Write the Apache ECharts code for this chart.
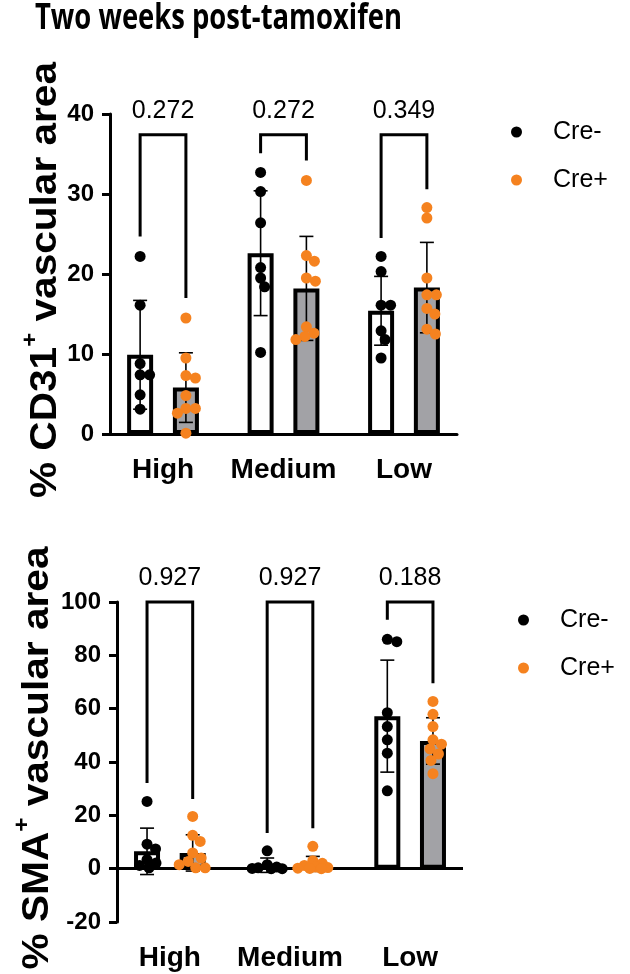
<!DOCTYPE html>
<html><head><meta charset="utf-8">
<script src="https://cdn.jsdelivr.net/npm/echarts@6/dist/echarts.min.js"></script>
<style>html,body{margin:0;padding:0;background:#fff}#c{width:630px;height:974px}</style>
</head><body><div id="c"></div>
<script>
// ---------- DATA ----------
const categories = ['High', 'Medium', 'Low'];
const groupNames = ['Cre-', 'Cre+'];
const titleText = 'Two weeks post-tamoxifen';

// Panel 1: % CD31+ vascular area
const cd31Ticks = [0, 10, 20, 30, 40];
const cd31DotsNeg = [
  [22.2, 16.1, 8.8, 7.4, 7.4, 4.9, 3.1],
  [32.7, 30.3, 26.4, 20.8, 19.5, 18.4, 10.2],
  [22.2, 20.3, 16.1, 16.1, 12.9, 11.8, 9.5]
];
const cd31DotsPos = [
  [14.5, 9.5, 7.3, 7.0, 4.8, 3.2, 3.2, 2.6, 0.1],
  [31.7, 22.3, 21.6, 19.5, 19.1, 13.4, 12.6, 12.2, 11.8],
  [28.3, 27.0, 19.5, 17.4, 17.4, 15.7, 15.0, 13.1, 12.5]
];
const cd31MeanNeg = [9.9, 22.6, 15.4];
const cd31MeanPos = [5.8, 18.2, 18.3];
const cd31SdNeg = [6.8, 7.8, 4.3];
const cd31SdPos = [4.35, 6.5, 5.65];
const cd31P = ['0.272', '0.272', '0.349'];
const cd31LegNeg = [24.7, 35.1, 24.5];
const cd31LegPos = [17.0, 34.2, 30.6];
const cd31BracketTop = 37.4;

// Panel 2: % SMA+ vascular area
const smaTicks = [-20, 0, 20, 40, 60, 80, 100];
const smaDotsNeg = [
  [25.2, 9.2, 7.4, 3.4, 2.1, 1.2, 0.3],
  [6.7, 1.5, 0.6, 0.3, 0.1, 0.0, 0.0],
  [86.0, 85.1, 58.5, 53.3, 48.3, 43.3, 29.2]
];
const smaDotsPos = [
  [19.6, 12.5, 10.2, 5.9, 4.0, 2.7, 1.5, 0.3, 0.3],
  [8.4, 3.0, 2.0, 1.2, 0.6, 0.4, 0.2, 0.1, 0.0],
  [62.7, 57.9, 53.3, 48.3, 46.7, 44.9, 43.0, 40.6, 35.6]
];
const smaMeanNeg = [6.5, 1.3, 57.2];
const smaMeanPos = [5.9, 1.8, 47.9];
const smaSdNeg = [8.7, 2.7, 21.0];
const smaSdPos = [6.8, 2.8, 8.7];
const smaP = ['0.927', '0.927', '0.188'];
const smaLegNeg = [32.1, 13.4, 93.3];
const smaLegPos = [26.1, 15.2, 69.5];
const smaBracketTop = 100;

// ---------- STYLE ----------
const FONT = '"Liberation Sans", Arial, Helvetica, sans-serif';
const ORANGE = '#f5821f';
const GREY = '#a2a2a6';
const OFFS = 0.19;       // bar offset from group centre (axis units)
const XMIN = 0.56, XMAX = 3.44;
const DOT = 11;

function measure(text, font) {
  const c = document.createElement('canvas').getContext('2d');
  c.font = font;
  return c.measureText(text).width;
}

function mkX(gi, showLine) {
  return {
    type: 'value', gridIndex: gi, min: XMIN, max: XMAX,
    axisLine: { show: showLine, onZero: false, lineStyle: { color: '#000', width: 3 } },
    axisTick: { show: false },
    splitLine: { show: false },
    axisLabel: {
      customValues: [1, 2, 3],
      formatter: v => categories[Math.round(v) - 1] || '',
      fontSize: 28, fontWeight: 'bold', color: '#000', margin: 22, fontFamily: FONT
    }
  };
}
function mkY(gi, ticks) {
  return {
    type: 'value', gridIndex: gi,
    min: ticks[0], max: ticks[ticks.length - 1], interval: ticks[1] - ticks[0],
    axisLine: { show: true, lineStyle: { color: '#000', width: 3 } },
    axisTick: { show: true, length: 8, lineStyle: { color: '#000', width: 3 } },
    splitLine: { show: false },
    axisLabel: { fontSize: 24, fontWeight: 'bold', color: '#000', margin: 16, fontFamily: FONT }
  };
}

function renderErr(params, api) {
  const x = api.value(0), m = api.value(1), s = api.value(2);
  const a = api.coord([x, m + s]), b = api.coord([x, m - s]);
  const w = 7;
  const st = { stroke: '#000', lineWidth: 1.6 };
  return { type: 'group', children: [
    { type: 'line', shape: { x1: a[0], y1: a[1], x2: b[0], y2: b[1] }, style: st },
    { type: 'line', shape: { x1: a[0] - w, y1: a[1], x2: a[0] + w, y2: a[1] }, style: st },
    { type: 'line', shape: { x1: b[0] - w, y1: b[1], x2: b[0] + w, y2: b[1] }, style: st }
  ]};
}
function mkBracketRender(labels) {
  return function (params, api) {
    const xl = api.value(0), xr = api.value(1), ll = api.value(2), lr = api.value(3), t = api.value(4);
    const p1 = api.coord([xl, ll]), p2 = api.coord([xl, t]), p3 = api.coord([xr, t]), p4 = api.coord([xr, lr]);
    return { type: 'group', children: [
      { type: 'polyline', shape: { points: [p1, p2, p3, p4] },
        style: { stroke: '#000', lineWidth: 3, fill: null, lineJoin: 'miter' } },
      { type: 'text', x: (p2[0] + p3[0]) / 2, y: p2[1] - 24,
        style: { text: labels[params.dataIndex], fontSize: 25, fontFamily: FONT, fill: '#000',
                 align: 'center', verticalAlign: 'middle', textAlign: 'center', textVerticalAlign: 'middle' } }
    ]};
  };
}

function panelSeries(gi, meanNeg, meanPos, sdNeg, sdPos, pv, legNeg, legPos, top, withZeroLine) {
  const barData = [];
  const errData = [];
  const brData = [];
  categories.forEach((c, i) => {
    barData.push({ value: [i + 1 - OFFS, meanNeg[i]], itemStyle: { color: '#ffffff' } });
    barData.push({ value: [i + 1 + OFFS, meanPos[i]], itemStyle: { color: GREY } });
    errData.push([i + 1 - OFFS, meanNeg[i], sdNeg[i]]);
    errData.push([i + 1 + OFFS, meanPos[i], sdPos[i]]);
    brData.push([i + 1 - OFFS, i + 1 + OFFS, legNeg[i], legPos[i], top]);
  });
  const bar = {
    id: 'bar' + gi, type: 'bar', xAxisIndex: gi, yAxisIndex: gi, data: barData,
    barWidth: 26, itemStyle: { borderColor: '#000', borderWidth: 4 }, z: 2, silent: true
  };
  if (withZeroLine) {
    bar.markLine = { symbol: 'none', silent: true, label: { show: false },
      lineStyle: { color: '#000', width: 3, type: 'solid' }, data: [{ yAxis: 0 }] };
  }
  return [
    bar,
    { id: 'err' + gi, type: 'custom', xAxisIndex: gi, yAxisIndex: gi, data: errData,
      encode: { x: 0, y: 1 }, renderItem: renderErr, z: 3, silent: true, clip: false },
    { id: 'neg' + gi, name: groupNames[0], type: 'scatter', xAxisIndex: gi, yAxisIndex: gi,
      symbolSize: DOT, itemStyle: { color: '#000', opacity: 1 }, z: 5, clip: false, data: [] },
    { id: 'pos' + gi, name: groupNames[1], type: 'scatter', xAxisIndex: gi, yAxisIndex: gi,
      symbolSize: DOT, itemStyle: { color: ORANGE, opacity: 1 }, z: 5, clip: false, data: [] },
    { id: 'br' + gi, type: 'custom', xAxisIndex: gi, yAxisIndex: gi, data: brData,
      encode: { x: 0, y: 4 }, renderItem: mkBracketRender(pv), z: 4, silent: true, clip: false }
  ];
}

// Titles (scaled to the reference's text boxes)
const titleFont = 'bold 35px "Open Sans"';
const titleScale = 367 / measure(titleText, titleFont);
const yTitleFont = 'bold 37px "Liberation Sans"';
const supFont = 'bold 22px "Liberation Sans"';
function yTitleLen(a, b) { return measure(a, yTitleFont) + measure('+', supFont) + measure(b, yTitleFont); }
const s1 = 436 / yTitleLen('% CD31', ' vascular area');
const s2 = 423 / yTitleLen('% SMA', ' vascular area');
const richY = {
  b: { fontSize: 37, fontWeight: 'bold', fontFamily: FONT, fill: '#000', lineHeight: 44, verticalAlign: 'bottom' },
  s: { fontSize: 22, fontWeight: 'bold', fontFamily: FONT, fill: '#000', lineHeight: 44, verticalAlign: 'top' }
};

function mkLegend(left, top) {
  return {
    data: groupNames.map(n => ({ name: n, icon: 'circle' })),
    orient: 'vertical', left: left, top: top, padding: 0,
    itemWidth: 11, itemHeight: 11, itemGap: 20, selectedMode: false,
    textStyle: { fontSize: 25, fontFamily: FONT, color: '#000', lineHeight: 28, padding: [0, 0, 0, 26] }
  };
}

const option = {
  animation: false,
  backgroundColor: '#fff',
  textStyle: { fontFamily: FONT },
  grid: [
    { left: 110, right: 173, top: 114, bottom: 540 },
    { left: 117, right: 167, top: 602, bottom: 52 }
  ],
  xAxis: [mkX(0, true), mkX(1, false)],
  yAxis: [mkY(0, cd31Ticks), mkY(1, smaTicks)],
  legend: [mkLegend(511, 118), mkLegend(518, 606)],
  graphic: [
    { type: 'text', x: 35, y: 19, scaleX: titleScale, silent: true,
      style: { text: titleText, font: titleFont, fill: '#000', align: 'left', verticalAlign: 'middle',
               textAlign: 'left', textVerticalAlign: 'middle' } },
    { type: 'text', x: 42, y: 280, rotation: Math.PI / 2, scaleX: s1, silent: true,
      style: { text: '{b|% CD31}{s|+}{b| vascular area}', rich: richY, align: 'center', verticalAlign: 'middle',
               textAlign: 'center', textVerticalAlign: 'middle' } },
    { type: 'text', x: 34, y: 758, rotation: Math.PI / 2, scaleX: s2, silent: true,
      style: { text: '{b|% SMA}{s|+}{b| vascular area}', rich: richY, align: 'center', verticalAlign: 'middle',
               textAlign: 'center', textVerticalAlign: 'middle' } }
  ],
  series: [].concat(
    panelSeries(0, cd31MeanNeg, cd31MeanPos, cd31SdNeg, cd31SdPos, cd31P, cd31LegNeg, cd31LegPos, cd31BracketTop, false),
    panelSeries(1, smaMeanNeg, smaMeanPos, smaSdNeg, smaSdPos, smaP, smaLegNeg, smaLegPos, smaBracketTop, true)
  )
};

const chart = echarts.init(document.getElementById('c'));
chart.setOption(option);

// Beeswarm placement of the dots (computed from the chart's own scales),
// limited to the width of the bar; overlap allowed when there is no room.
function swarm(gi, vals, xc) {
  const p0 = chart.convertToPixel({ gridIndex: gi }, [xc, 0]);
  const p1 = chart.convertToPixel({ gridIndex: gi }, [xc + 1, 0]);
  const ppu = p1[0] - p0[0];
  const D = 9.5, MAXOFF = 15;
  const placed = [];
  const res = [];
  const idx = vals.map((v, i) => i).sort((a, b) => vals[b] - vals[a]);
  idx.forEach(i => {
    const py = chart.convertToPixel({ gridIndex: gi }, [xc, vals[i]])[1];
    let off = null, best = 0, bestD = -1;
    for (let k = 0; ; k++) {
      const c = (k % 2 === 1 ? 1 : -1) * Math.ceil(k / 2) * 0.5;
      if (Math.abs(c) > MAXOFF) break;
      let md = Infinity;
      placed.forEach(q => { md = Math.min(md, Math.hypot(q[0] - c, q[1] - py)); });
      if (md >= D) { off = c; break; }
      if (md > bestD) { bestD = md; best = c; }
    }
    if (off === null) off = best;
    placed.push([off, py]);
    res[i] = [xc + off / ppu, vals[i]];
  });
  return res;
}
function dots(gi, groups, sign) {
  let out = [];
  groups.forEach((vals, i) => { out = out.concat(swarm(gi, vals, i + 1 + sign * OFFS)); });
  return out;
}
chart.setOption({
  series: [
    { id: 'neg0', data: dots(0, cd31DotsNeg, -1) },
    { id: 'pos0', data: dots(0, cd31DotsPos, 1) },
    { id: 'neg1', data: dots(1, smaDotsNeg, -1) },
    { id: 'pos1', data: dots(1, smaDotsPos, 1) }
  ]
});
</script>
</body></html>
